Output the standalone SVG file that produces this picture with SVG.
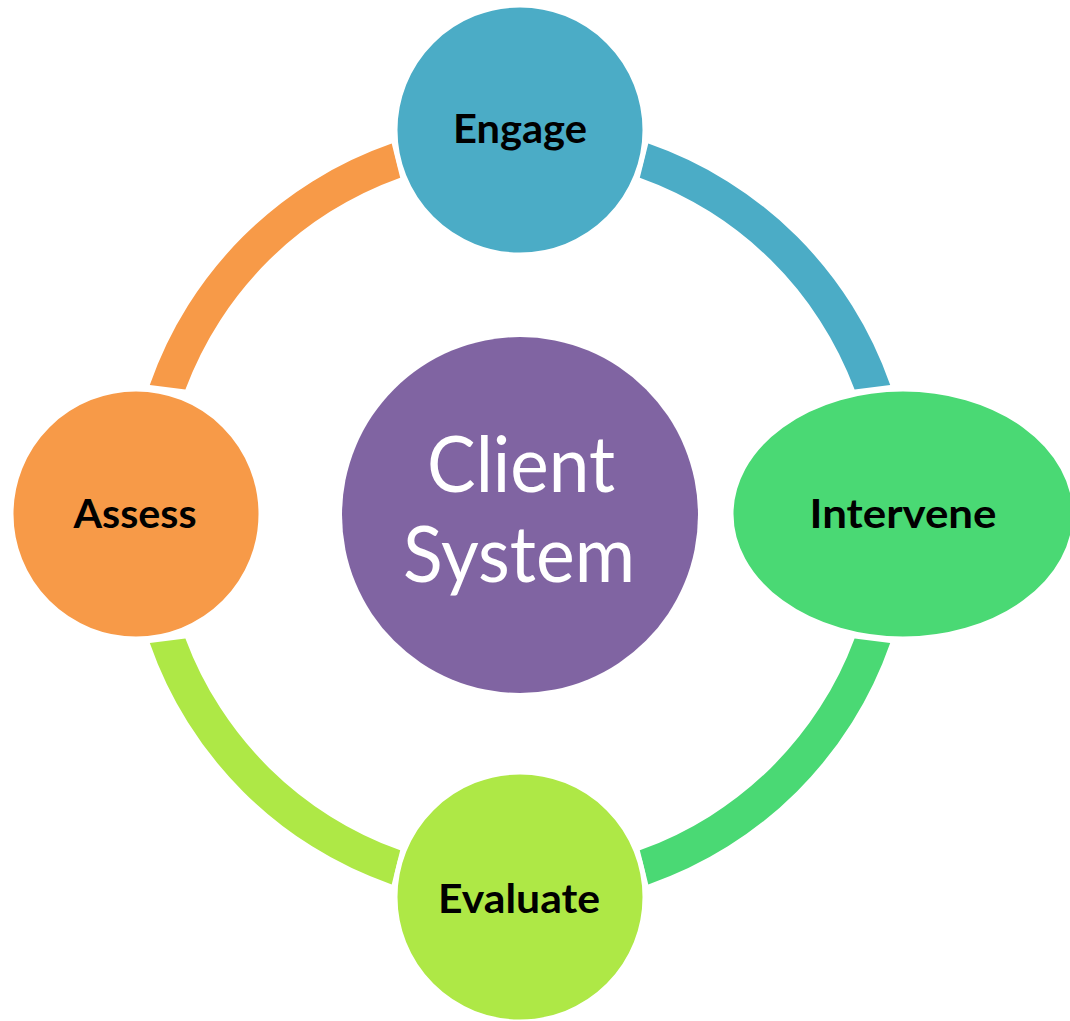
<svg xmlns="http://www.w3.org/2000/svg" width="1070" height="1021" viewBox="0 0 1070 1021">
<style>
.node{stroke:#ffffff;stroke-width:5}
.lbl{font-family:Lato,"Open Sans","Liberation Sans",sans-serif;font-weight:bold;font-size:41px;fill:#000000;text-anchor:middle}
.ctr{font-family:Lato,"Open Sans","Liberation Sans",sans-serif;font-size:78px;fill:#ffffff;text-anchor:middle}
</style>
<rect width="1070" height="1021" fill="#ffffff"/>
<g id="connectors">
<path id="arc-engage-intervene" fill="#4BACC6" d="M648.3,143.6 A392,392 0 0 1 890.2,385.1 L854.6,389.6 A357,357 0 0 0 639.8,177.7 Z"/>
<path id="arc-intervene-evaluate" fill="#4AD974" d="M890.2,642.9 A392,392 0 0 1 648.3,884.4 L639.8,850.3 A357,357 0 0 0 854.6,638.4 Z"/>
<path id="arc-evaluate-assess" fill="#AEE846" d="M391.7,884.4 A392,392 0 0 1 149.8,642.9 L185.4,638.4 A357,357 0 0 0 400.2,850.3 Z"/>
<path id="arc-assess-engage" fill="#F79A48" d="M149.8,385.1 A392,392 0 0 1 391.7,143.6 L400.2,177.7 A357,357 0 0 0 185.4,389.6 Z"/>
</g>
<g id="client-system">
<circle cx="520" cy="515" r="178" fill="#8064A2"/>
<text class="ctr" x="521" y="492" textLength="188" lengthAdjust="spacingAndGlyphs">Client</text>
<text class="ctr" x="519" y="582" textLength="232" lengthAdjust="spacingAndGlyphs">System</text>
</g>
<g id="engage">
<circle class="node" cx="520" cy="130" r="125" fill="#4BACC6"/>
<text class="lbl" x="520" y="143" textLength="134" lengthAdjust="spacingAndGlyphs">Engage</text>
</g>
<g id="intervene">
<ellipse class="node" cx="903" cy="514" rx="172" ry="125" fill="#4AD974"/>
<text class="lbl" x="903" y="528" textLength="187" lengthAdjust="spacingAndGlyphs">Intervene</text>
</g>
<g id="evaluate">
<circle class="node" cx="520" cy="897" r="125" fill="#AEE846"/>
<text class="lbl" x="519" y="913" textLength="162" lengthAdjust="spacingAndGlyphs">Evaluate</text>
</g>
<g id="assess">
<circle class="node" cx="136" cy="514" r="125" fill="#F79A48"/>
<text class="lbl" x="135" y="528" textLength="123" lengthAdjust="spacingAndGlyphs">Assess</text>
</g>
</svg>
